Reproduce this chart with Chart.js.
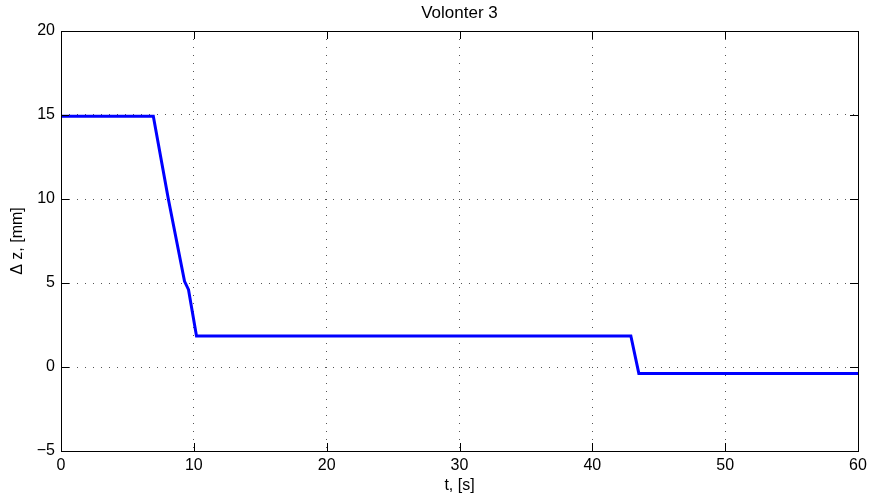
<!DOCTYPE html>
<html>
<head>
<meta charset="utf-8">
<script src="https://cdn.jsdelivr.net/npm/chart.js@4"></script>
<style>
  html, body { margin: 0; padding: 0; background: #fff; }
  #wrap { width: 869px; height: 499px; }
</style>
</head>
<body>
<div id="wrap"><canvas id="chart" width="869" height="499"></canvas></div>
<script>
// time [s] and displacement [mm]
const tValues = [0, 6.95, 8.08, 9.3, 9.6, 10.2, 42.9, 43.5, 60];
const dzValues = [14.93, 14.93, 10.0, 5.1, 4.6, 1.85, 1.85, -0.38, -0.38];
const xTicks = [0, 10, 20, 30, 40, 50, 60];
const yTicks = [-5, 0, 5, 10, 15, 20];

const points = tValues.map((t, i) => ({ x: t, y: dzValues[i] }));

// matlab style box with inward ticks
const boxPlugin = {
    id: 'box',
    afterDraw(chart) {
        const { ctx, chartArea: a, scales } = chart;
        const len = 8;
        ctx.save();
        ctx.strokeStyle = '#000';
        ctx.lineWidth = 1;
        ctx.setLineDash([]);
        ctx.strokeRect(Math.round(a.left) + 0.5, Math.round(a.top) + 0.5,
            Math.round(a.right - a.left), Math.round(a.bottom - a.top));
        ctx.beginPath();
        xTicks.forEach(v => {
            const x = Math.round(scales.x.getPixelForValue(v)) + 0.5;
            ctx.moveTo(x, a.bottom); ctx.lineTo(x, a.bottom - len);
            ctx.moveTo(x, a.top); ctx.lineTo(x, a.top + len);
        });
        yTicks.forEach(v => {
            const y = Math.round(scales.y.getPixelForValue(v)) + 0.5;
            ctx.moveTo(a.left, y); ctx.lineTo(a.left + len, y);
            ctx.moveTo(a.right, y); ctx.lineTo(a.right - len, y);
        });
        ctx.stroke();
        ctx.restore();
    }
};

const font = { family: '"Liberation Sans", Arial, sans-serif', size: 16 };

new Chart(document.getElementById('chart'), {
    type: 'line',
    data: {
        datasets: [{
            data: points,
            borderColor: '#0000ff',
            borderWidth: 3,
            pointRadius: 0,
            tension: 0,
            fill: false
        }]
    },
    options: {
        responsive: false,
        animation: false,
        layout: { padding: { top: 0, right: 11, bottom: 0, left: 0 } },
        plugins: {
            legend: { display: false },
            tooltip: { enabled: false },
            title: {
                display: true,
                text: 'Volonter 3',
                fullSize: false,
                color: '#000',
                font: { family: font.family, size: 17, weight: 'normal' },
                padding: { top: 3, bottom: 7.6 }
            }
        },
        scales: {
            x: {
                type: 'linear',
                min: 0,
                max: 60,
                afterBuildTicks: s => { s.ticks = xTicks.map(v => ({ value: v })); },
                afterFit: s => { s.height = 48; s.paddingRight = 0; s.paddingLeft = 0; },
                ticks: { color: '#000', font: font, padding: 5, maxRotation: 0 },
                grid: { color: '#555', lineWidth: 1, drawTicks: false },
                border: { display: false, dash: [1, 7] },
                title: { display: true, text: 't, [s]', color: '#000', font: font, padding: { top: 0, bottom: 4 } }
            },
            y: {
                min: -5,
                max: 20,
                afterBuildTicks: s => { s.ticks = yTicks.map(v => ({ value: v })); },
                afterFit: s => { s.width = 61; },
                ticks: {
                    color: '#000',
                    font: font,
                    padding: 6,
                    callback: v => String(v).replace('-', '\u2212')
                },
                grid: { color: '#555', lineWidth: 1, drawTicks: false },
                border: { display: false, dash: [1, 7] },
                title: { display: true, text: '\u0394 z, [mm]', color: '#000', font: font, padding: { top: 8, bottom: 0 } }
            }
        }
    },
    plugins: [boxPlugin]
});
</script>
</body>
</html>
